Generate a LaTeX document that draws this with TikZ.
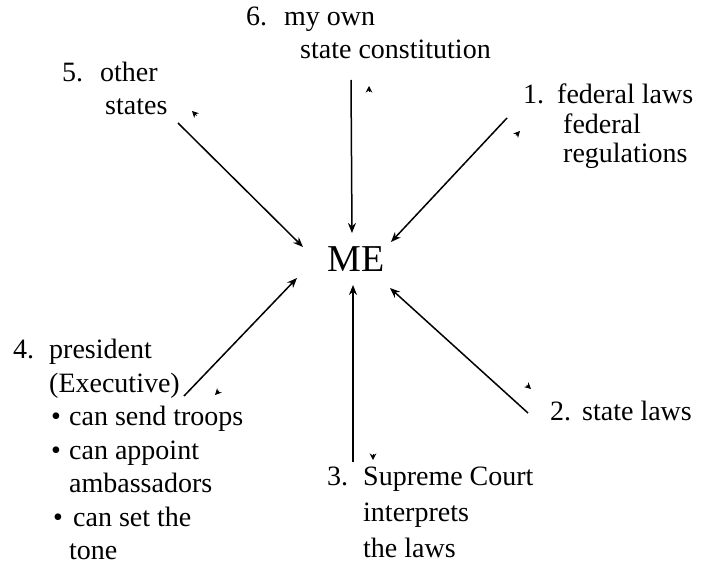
\documentclass[tikz,border=0pt]{standalone}
\usepackage{fontspec}
\setmainfont{Liberation Serif}
\usetikzlibrary{arrows.meta}
\begin{document}
\begin{tikzpicture}[x=1pt,y=-1pt,
  lbl/.style={font=\fontsize{28}{33}\selectfont, align=left, anchor=north west, inner sep=0pt},
  conn/.style={line width=1.5pt, -{Stealth[length=10pt,width=8pt]}},
  smalltip/.style={line width=0.8pt, -{Stealth[length=6.5pt,width=6.5pt]}}]
\useasboundingbox[fill=white] (0,0) rectangle (704,567);
% centre
\node[font=\fontsize{38}{42}\selectfont, inner sep=0pt] (me) at (356,259) {ME};
% labels
\node[lbl] (l6) at (246,7) {\makebox[38pt][l]{6.}my own\\\hspace*{54pt}state constitution};
\node[lbl] (l5) at (62,62) {\makebox[38pt][l]{5.}other\\\hspace*{43pt}states};
\node[lbl, font=\fontsize{28}{29.5}\selectfont] (l1) at (523,84) {\makebox[34pt][l]{1.}federal laws\\\hspace*{40pt}federal\\\hspace*{40pt}regulations};
\node[lbl, font=\fontsize{28}{33.5}\selectfont] (l4) at (13,339) {\makebox[36pt][l]{4.}president\\
  \hspace*{36pt}(Executive)\\
  \hspace*{38pt}\makebox[18pt][l]{\textbullet}can send troops\\
  \hspace*{38pt}\makebox[18pt][l]{\textbullet}can appoint\\
  \hspace*{56pt}ambassadors\\
  \hspace*{40pt}\makebox[20pt][l]{\textbullet}can set the\\
  \hspace*{56pt}tone};
\node[lbl, font=\fontsize{28}{36}\selectfont] (l3) at (327,467) {\makebox[36pt][l]{3.}Supreme Court\\\hspace*{36pt}interprets\\\hspace*{36pt}the laws};
\node[lbl] (l2) at (550,401) {\makebox[32pt][l]{2.}state laws};
% connector end points
\coordinate (c5) at (178,123); \coordinate (e5) at (303,247);
\coordinate (c6) at (351,80);  \coordinate (e6) at (352,233);
\coordinate (c1) at (507,118); \coordinate (e1) at (391,242);
\coordinate (c4) at (184,396); \coordinate (e4) at (297,278);
\coordinate (c2) at (528,413); \coordinate (e2) at (390,288);
\coordinate (c3) at (353,462); \coordinate (e3) at (353,285);
\draw[conn] (c5) -- (e5);
\draw[conn] (c6) -- (e6);
\draw[conn] (c1) -- (e1);
\draw[conn] (c4) -- (e4);
\draw[conn] (c2) -- (e2);
\draw[conn] (c3) -- (e3);
% small detached arrowheads
\coordinate (s5) at (192,111); \coordinate (s5b) at (196.5,115.5);
\coordinate (s6) at (369,86);  \coordinate (s6b) at (369,92);
\coordinate (s1) at (520,131); \coordinate (s1b) at (515.9,135.4);
\coordinate (s4) at (215,395); \coordinate (s4b) at (219.1,390.7);
\coordinate (s2) at (531,389); \coordinate (s2b) at (526.6,385);
\coordinate (s3) at (373,460); \coordinate (s3b) at (373,454);
\draw[smalltip] (s5b) -- (s5);
\draw[smalltip] (s6b) -- (s6);
\draw[smalltip] (s1b) -- (s1);
\draw[smalltip] (s4b) -- (s4);
\draw[smalltip] (s2b) -- (s2);
\draw[smalltip] (s3b) -- (s3);
\end{tikzpicture}
\end{document}
